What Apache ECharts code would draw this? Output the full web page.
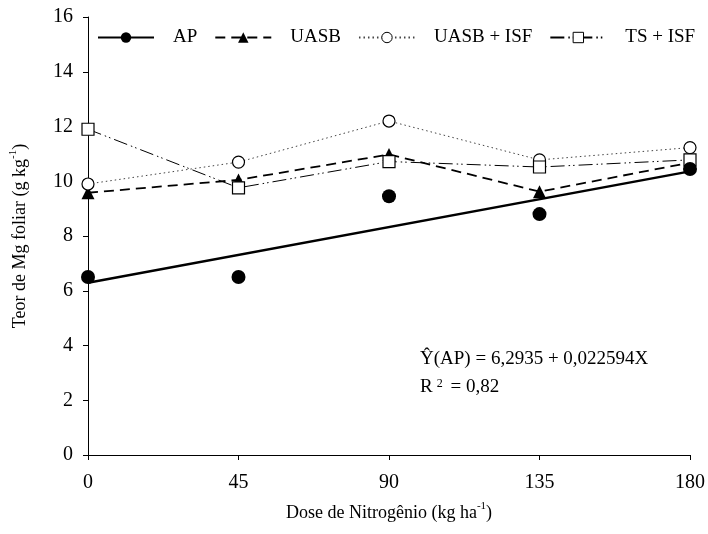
<!DOCTYPE html>
<html>
<head>
<meta charset="utf-8">
<script src="https://cdn.jsdelivr.net/npm/echarts@6/dist/echarts.min.js"></script>
<style>
  html, body { margin: 0; padding: 0; background: #fff; }
  #chart { width: 708px; height: 534px; }
</style>
</head>
<body>
<div id="chart"></div>
<script>
// Nitrogen doses (kg/ha) and foliar Mg content (g/kg) per treatment
const doses = [0, 45, 90, 135, 180];
const apObserved = [6.5, 6.5, 9.45, 8.8, 10.45];
const uasb = [9.58, 10.05, 10.98, 9.62, 10.68];
const uasbIsf = [9.9, 10.7, 12.2, 10.78, 11.23];
const tsIsf = [11.9, 9.76, 10.72, 10.52, 10.78];

// Linear fit for AP: Y = a + bX
const apIntercept = 6.2935;
const apSlope = 0.022594;
const apR2 = '0,82';

const xTicks = [0, 45, 90, 135, 180];

const pairs = vals => doses.map((d, i) => [d, vals[i]]);
const fitLine = [doses[0], doses[doses.length - 1]].map(x => [x, apIntercept + apSlope * x]);

const FONT = '"Liberation Serif", "Times New Roman", serif';

const chart = echarts.init(document.getElementById('chart'), null, { renderer: 'canvas' });

chart.setOption({
  backgroundColor: '#ffffff',
  animation: false,
  textStyle: { fontFamily: FONT, color: '#000' },
  grid: { left: 84, right: 17, top: 17, bottom: 79, containLabel: false },
  legend: {
    data: ['AP', 'UASB', 'UASB + ISF', 'TS + ISF'],
    left: 92,
    top: 23,
    itemWidth: 56,
    itemHeight: 13,
    itemGap: 17,
    itemStyle: { borderWidth: 1 },
    textStyle: { fontFamily: FONT, fontSize: 19, color: '#000', padding: [0, 0, 0, 14] },
    selectedMode: false
  },
  xAxis: {
    type: 'value',
    min: 0,
    max: 180,
    interval: 45,
    name: 'Dose de Nitrogênio (kg ha{sup|-1})',
    nameLocation: 'middle',
    nameGap: 46,
    nameTextStyle: {
      fontFamily: FONT, fontSize: 18, color: '#000',
      rich: { sup: { fontFamily: FONT, fontSize: 11, color: '#000', verticalAlign: 'top', lineHeight: 24 } }
    },
    axisLine: { show: true, lineStyle: { color: '#000', width: 1 } },
    axisTick: { show: true, inside: false, length: 5, lineStyle: { color: '#000' } },
    axisLabel: {
      fontFamily: FONT, fontSize: 20, color: '#000', margin: 18,
      formatter: v => xTicks.includes(v) ? String(v) : ''
    },
    splitLine: { show: false }
  },
  yAxis: {
    type: 'value',
    min: 0,
    max: 16,
    interval: 2,
    name: 'Teor de Mg foliar (g kg{sup|-1})',
    nameLocation: 'middle',
    nameGap: 56,
    nameRotate: 90,
    nameTextStyle: {
      fontFamily: FONT, fontSize: 18, color: '#000',
      rich: { sup: { fontFamily: FONT, fontSize: 11, color: '#000', verticalAlign: 'top', lineHeight: 24 } }
    },
    axisLine: { show: true, lineStyle: { color: '#000', width: 1 } },
    axisTick: { show: true, inside: false, length: 5, lineStyle: { color: '#000' } },
    axisLabel: { fontFamily: FONT, fontSize: 20, color: '#000', margin: 15 },
    splitLine: { show: false }
  },
  series: [
    {
      name: 'AP',
      type: 'line',
      data: fitLine,
      symbol: 'circle',
      symbolSize: 13,
      showSymbol: false,
      itemStyle: { color: '#000' },
      lineStyle: { color: '#000', width: 2.5, type: 'solid' },
      z: 3
    },
    {
      name: 'AP',
      type: 'scatter',
      data: pairs(apObserved),
      symbol: 'circle',
      symbolSize: 14,
      itemStyle: { color: '#000', opacity: 1 },
      z: 6
    },
    {
      name: 'UASB',
      type: 'line',
      data: pairs(uasb),
      symbol: 'triangle',
      symbolSize: 13,
      showAllSymbol: true,
      itemStyle: { color: '#000', borderWidth: 0 },
      lineStyle: { color: '#000', width: 1.8, type: [10, 6] },
      z: 4
    },
    {
      name: 'UASB + ISF',
      type: 'line',
      data: pairs(uasbIsf),
      symbol: 'circle',
      symbolSize: 12,
      showAllSymbol: true,
      itemStyle: { color: '#fff', borderColor: '#000', borderWidth: 1.2 },
      lineStyle: { color: '#444', width: 1, type: [1.5, 3] },
      z: 5
    },
    {
      name: 'TS + ISF',
      type: 'line',
      data: pairs(tsIsf),
      symbol: 'rect',
      symbolSize: 12,
      showAllSymbol: true,
      itemStyle: { color: '#fff', borderColor: '#000', borderWidth: 1.2 },
      lineStyle: { color: '#000', width: 1, type: [14, 4, 1.5, 3, 1.5, 4] },
      z: 5
    }
  ],
  graphic: [
    {
      type: 'text',
      left: 420,
      top: 350,
      style: {
        text: 'Ŷ(AP) = ' + apIntercept.toFixed(4).replace('.', ',') + ' + ' +
              String(apSlope).replace('.', ',') + 'X',
        font: '19px ' + FONT,
        fill: '#000'
      }
    },
    {
      type: 'text',
      left: 420,
      top: 378,
      style: {
        text: 'R{sup|2} = ' + apR2,
        font: '19px ' + FONT,
        fill: '#000',
        rich: { sup: { fontFamily: FONT, fontSize: 12, fill: '#000', verticalAlign: 'top', padding: [0, 3, 0, 4] } }
      }
    }
  ]
});
</script>
</body>
</html>
